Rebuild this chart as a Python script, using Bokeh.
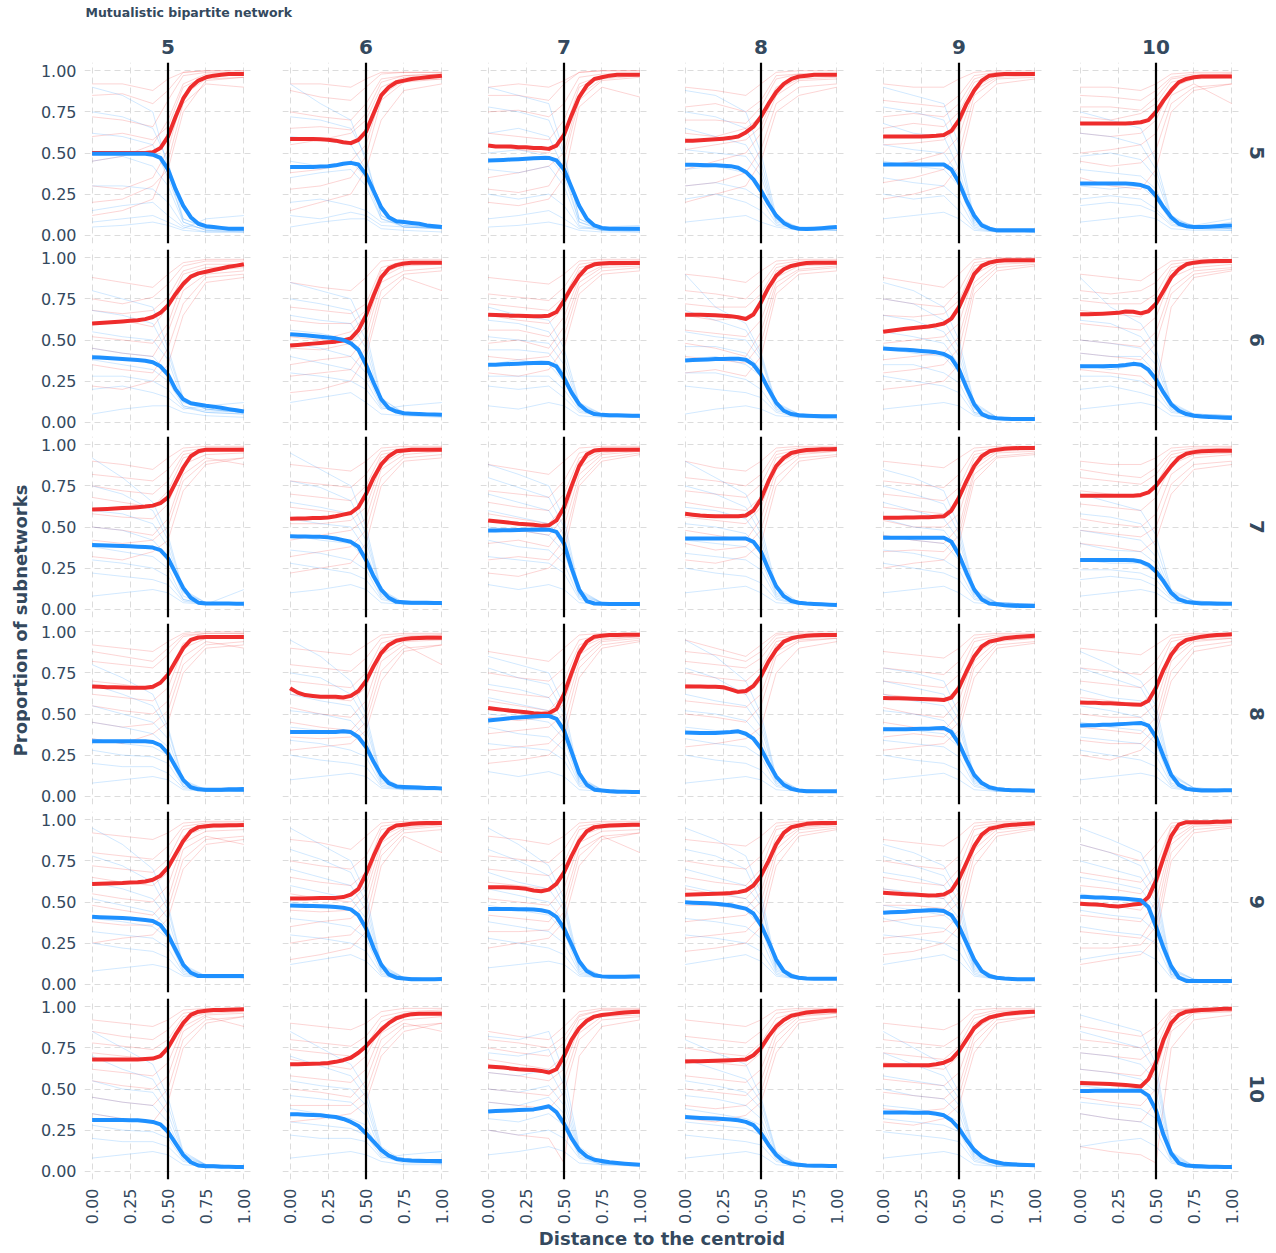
import math
from bokeh.plotting import figure
from bokeh.layouts import row, column
from bokeh.models import Range1d, FixedTicker, Span, NumeralTickFormatter
from bokeh.embed import file_html
from bokeh.resources import INLINE
from bokeh.core.properties import value

# ---------------- data ----------------
chart_title = "Mutualistic bipartite network"
col_levels = ["5", "6", "7", "8", "9", "10"]
row_levels = ["5", "6", "7", "8", "9", "10"]
x_label = "Distance to the centroid"
y_label = "Proportion of subnetworks"
tick_values = [0.0, 0.25, 0.5, 0.75, 1.0]
centroid_cut = 0.5

x_main = [0.0, 0.05, 0.1, 0.15, 0.2, 0.25, 0.3, 0.35, 0.4, 0.45, 0.5,
          0.55, 0.6, 0.65, 0.7, 0.75, 0.8, 0.85, 0.9, 0.95, 1.0]
x_thin = [0.0, 0.2, 0.4, 0.5, 0.6, 0.75, 1.0]

# smoothed proportions (red series / blue series), one list per column level
red_row5 = [
    [.50,.50,.50,.50,.50,.50,.50,.50,.505,.53,.60,.72,.83,.90,.94,.96,.97,.975,.98,.98,.98],
    [.585,.585,.585,.585,.583,.58,.575,.565,.56,.58,.63,.74,.85,.90,.93,.94,.95,.955,.96,.965,.97],
    [.545,.54,.54,.54,.535,.535,.53,.53,.525,.545,.61,.73,.84,.91,.95,.96,.97,.975,.975,.975,.975],
    [.575,.575,.577,.58,.583,.587,.592,.60,.625,.66,.72,.80,.87,.92,.95,.965,.97,.975,.975,.975,.975],
    [.60,.60,.60,.60,.60,.60,.602,.605,.61,.635,.70,.80,.88,.94,.97,.975,.98,.98,.98,.98,.98],
    [.68,.68,.68,.68,.68,.68,.68,.682,.687,.70,.75,.82,.88,.93,.95,.96,.965,.965,.965,.965,.965],
]
blue_row5 = [
    [.495,.495,.495,.495,.495,.495,.495,.495,.49,.47,.40,.28,.18,.11,.07,.055,.05,.045,.04,.04,.04],
    [.415,.415,.415,.415,.418,.42,.425,.435,.44,.43,.37,.27,.17,.11,.085,.08,.075,.07,.06,.055,.05],
    [.455,.456,.458,.46,.462,.465,.468,.47,.47,.455,.40,.29,.18,.10,.06,.045,.04,.04,.04,.04,.04],
    [.428,.428,.427,.426,.425,.423,.42,.41,.385,.34,.27,.19,.12,.075,.05,.04,.038,.04,.043,.047,.05],
    [.43,.43,.43,.43,.43,.43,.43,.43,.43,.40,.32,.21,.12,.06,.04,.03,.03,.03,.03,.03,.03],
    [.315,.315,.315,.315,.315,.315,.314,.312,.305,.29,.24,.17,.11,.07,.055,.05,.05,.052,.055,.058,.06],
]
red_row6 = [
    [.60,.603,.606,.61,.613,.617,.62,.627,.64,.665,.71,.78,.84,.885,.905,.915,.925,.935,.945,.952,.96],
    [.466,.47,.474,.478,.482,.486,.49,.497,.51,.56,.65,.77,.88,.935,.955,.965,.97,.97,.97,.97,.97],
    [.654,.652,.65,.648,.647,.646,.645,.645,.648,.67,.74,.82,.89,.94,.96,.965,.968,.968,.968,.968,.968],
    [.654,.654,.653,.652,.65,.648,.645,.638,.628,.655,.73,.82,.89,.93,.95,.96,.968,.97,.97,.97,.97],
    [.55,.556,.562,.568,.573,.577,.582,.59,.60,.63,.70,.80,.90,.95,.97,.98,.985,.985,.985,.985,.985],
    [.657,.657,.658,.66,.662,.665,.673,.672,.662,.675,.72,.80,.88,.93,.96,.97,.975,.978,.98,.98,.98],
]
blue_row6 = [
    [.395,.393,.39,.388,.385,.382,.378,.374,.365,.34,.29,.20,.14,.115,.108,.10,.095,.088,.08,.073,.066],
    [.535,.532,.529,.525,.52,.515,.51,.50,.48,.44,.35,.24,.14,.085,.065,.055,.052,.05,.048,.047,.046],
    [.35,.35,.352,.354,.356,.358,.36,.362,.36,.34,.27,.18,.11,.07,.05,.045,.043,.042,.041,.04,.04],
    [.376,.378,.38,.382,.384,.385,.386,.386,.38,.35,.29,.20,.12,.07,.05,.043,.04,.038,.037,.036,.036],
    [.448,.445,.442,.44,.437,.433,.43,.425,.415,.39,.32,.21,.11,.05,.03,.025,.022,.02,.02,.02,.02],
    [.34,.34,.34,.341,.342,.344,.348,.355,.35,.32,.26,.18,.11,.07,.05,.04,.035,.032,.03,.028,.026],
]
red_row7 = [
    [.607,.608,.61,.612,.615,.617,.62,.624,.63,.645,.68,.77,.86,.93,.96,.97,.97,.97,.97,.97,.97],
    [.55,.551,.552,.554,.555,.558,.565,.575,.585,.62,.70,.80,.88,.93,.96,.965,.97,.97,.97,.97,.97],
    [.54,.535,.53,.525,.52,.517,.513,.508,.51,.54,.62,.75,.87,.94,.965,.97,.97,.97,.97,.97,.97],
    [.58,.575,.57,.567,.565,.565,.565,.566,.57,.60,.67,.78,.87,.92,.95,.96,.968,.97,.972,.973,.974],
    [.556,.556,.556,.557,.558,.559,.56,.562,.565,.60,.68,.78,.87,.93,.96,.97,.975,.978,.98,.98,.98],
    [.69,.69,.69,.69,.69,.69,.69,.69,.695,.71,.75,.81,.87,.92,.945,.955,.96,.962,.963,.964,.964],
]
blue_row7 = [
    [.39,.389,.388,.386,.385,.383,.38,.378,.375,.36,.31,.22,.13,.07,.04,.035,.035,.035,.035,.034,.034],
    [.444,.443,.442,.441,.44,.437,.43,.42,.41,.38,.30,.20,.12,.07,.045,.042,.04,.04,.039,.038,.038],
    [.478,.479,.48,.481,.482,.483,.484,.485,.484,.47,.40,.25,.12,.05,.035,.033,.032,.032,.032,.032,.032],
    [.43,.43,.43,.43,.43,.43,.43,.43,.43,.41,.35,.24,.14,.08,.05,.04,.035,.032,.03,.028,.026],
    [.435,.435,.435,.435,.435,.435,.435,.435,.435,.41,.33,.22,.12,.06,.035,.03,.025,.022,.02,.02,.02],
    [.30,.30,.30,.30,.30,.30,.30,.298,.29,.27,.23,.17,.10,.06,.045,.04,.035,.035,.034,.034,.034],
]
red_row8 = [
    [.667,.665,.663,.662,.661,.66,.66,.66,.665,.69,.74,.82,.90,.95,.965,.968,.968,.968,.968,.968,.968],
    [.657,.63,.615,.61,.605,.605,.605,.60,.61,.64,.70,.79,.87,.92,.945,.955,.96,.962,.963,.963,.963],
    [.536,.53,.525,.52,.515,.51,.505,.502,.505,.53,.62,.75,.87,.94,.97,.975,.98,.98,.982,.982,.982],
    [.667,.667,.667,.666,.665,.663,.65,.635,.64,.67,.73,.82,.89,.94,.96,.97,.975,.978,.98,.98,.98],
    [.597,.596,.595,.594,.592,.591,.59,.588,.585,.60,.66,.76,.85,.91,.94,.95,.96,.965,.97,.973,.976],
    [.57,.569,.568,.566,.565,.563,.56,.558,.556,.58,.66,.77,.86,.92,.95,.96,.97,.975,.98,.982,.984],
]
blue_row8 = [
    [.335,.335,.335,.335,.335,.335,.335,.335,.33,.31,.26,.18,.10,.055,.042,.04,.04,.04,.042,.043,.044],
    [.39,.39,.39,.39,.39,.39,.39,.395,.39,.36,.30,.21,.13,.08,.06,.057,.055,.053,.051,.05,.048],
    [.46,.465,.47,.475,.478,.482,.485,.488,.488,.47,.40,.27,.14,.07,.04,.035,.03,.028,.027,.026,.026],
    [.387,.386,.385,.385,.385,.387,.39,.395,.38,.35,.29,.20,.12,.07,.045,.035,.03,.03,.03,.03,.03],
    [.407,.407,.408,.408,.409,.41,.41,.413,.415,.39,.32,.22,.13,.08,.055,.045,.04,.037,.036,.035,.034],
    [.43,.431,.432,.434,.435,.437,.44,.443,.446,.43,.36,.24,.13,.07,.045,.04,.035,.035,.035,.036,.036],
]
red_row9 = [
    [.61,.611,.612,.614,.615,.618,.62,.625,.635,.66,.71,.79,.87,.93,.955,.96,.965,.965,.967,.967,.968],
    [.522,.522,.522,.523,.524,.524,.525,.53,.545,.58,.67,.78,.88,.94,.965,.97,.975,.978,.98,.98,.98],
    [.589,.59,.59,.588,.585,.58,.57,.565,.575,.61,.68,.78,.87,.93,.955,.96,.965,.967,.968,.969,.97],
    [.544,.545,.547,.548,.55,.552,.555,.56,.57,.60,.66,.75,.85,.92,.955,.965,.975,.978,.98,.98,.98],
    [.556,.553,.55,.547,.545,.542,.54,.541,.545,.57,.64,.74,.84,.91,.945,.955,.965,.97,.972,.975,.978],
    [.49,.487,.485,.482,.475,.472,.478,.485,.49,.53,.63,.77,.90,.97,.985,.985,.985,.985,.987,.988,.99],
]
blue_row9 = [
    [.41,.408,.406,.405,.403,.40,.395,.39,.385,.36,.30,.21,.12,.07,.05,.05,.05,.05,.05,.05,.05],
    [.478,.477,.476,.475,.474,.472,.47,.465,.455,.42,.34,.22,.12,.06,.04,.035,.03,.03,.03,.031,.032],
    [.458,.458,.457,.457,.456,.456,.455,.45,.44,.41,.34,.24,.14,.08,.055,.048,.045,.045,.046,.047,.048],
    [.498,.496,.494,.492,.49,.485,.48,.47,.46,.43,.36,.26,.15,.08,.05,.04,.035,.034,.034,.034,.034],
    [.435,.437,.439,.441,.445,.447,.45,.45,.445,.42,.35,.25,.15,.08,.05,.04,.035,.032,.03,.03,.03],
    [.532,.53,.528,.527,.525,.523,.52,.515,.51,.47,.35,.22,.11,.04,.02,.02,.02,.02,.02,.02,.02],
]
red_row10 = [
    [.68,.68,.68,.68,.68,.68,.68,.682,.685,.70,.75,.83,.90,.95,.97,.975,.98,.98,.982,.983,.984],
    [.65,.651,.652,.654,.655,.658,.665,.675,.69,.72,.76,.81,.86,.90,.93,.945,.955,.957,.958,.958,.958],
    [.637,.634,.63,.625,.62,.617,.615,.61,.60,.62,.70,.80,.87,.915,.94,.95,.955,.96,.965,.968,.97],
    [.667,.668,.669,.67,.671,.673,.675,.677,.68,.705,.75,.82,.88,.92,.945,.955,.965,.97,.973,.975,.976],
    [.645,.645,.645,.645,.645,.645,.645,.65,.66,.68,.73,.80,.87,.91,.935,.945,.955,.96,.965,.968,.97],
    [.536,.535,.533,.532,.53,.528,.525,.52,.515,.56,.66,.80,.90,.95,.97,.975,.98,.982,.985,.987,.988],
]
blue_row10 = [
    [.312,.312,.312,.311,.311,.31,.31,.306,.30,.285,.24,.17,.10,.055,.035,.03,.03,.028,.027,.026,.026],
    [.347,.346,.344,.342,.34,.335,.33,.318,.30,.275,.23,.18,.13,.095,.075,.068,.065,.064,.063,.063,.063],
    [.363,.366,.368,.37,.372,.374,.376,.385,.395,.36,.29,.20,.13,.09,.07,.062,.055,.05,.046,.043,.04],
    [.33,.327,.324,.322,.32,.318,.315,.31,.30,.28,.23,.16,.10,.06,.045,.04,.035,.034,.033,.032,.032],
    [.357,.357,.357,.357,.356,.356,.355,.35,.34,.31,.26,.19,.13,.09,.065,.055,.045,.042,.04,.038,.036],
    [.488,.488,.489,.489,.49,.49,.49,.49,.49,.46,.37,.22,.11,.05,.035,.032,.03,.028,.027,.026,.026],
]

# individual subnetwork traces (percent), sampled at x_thin; 8 red + 8 blue per panel
thin_red_row5 = [
    [[85,86,80,88,99,100,100],[72,70,66,82,97,99,99],[45,48,55,70,92,98,98],[30,28,35,52,85,95,96],[12,15,22,45,80,92,90],[60,62,58,66,90,97,98],[20,22,30,40,75,94,96],[92,92,88,95,99,100,100]],
    [[88,84,82,90,98,99,99],[75,72,70,80,95,97,98],[55,58,62,70,90,96,97],[38,40,45,55,85,94,95],[15,20,25,40,70,88,92],[65,66,64,74,93,97,98],[28,30,35,48,82,93,95],[92,92,90,95,99,99,99]],
    [[85,85,82,92,99,100,100],[75,76,72,80,96,98,98],[62,60,58,70,92,97,98],[35,38,42,50,85,95,97],[20,18,22,35,78,90,84],[55,52,50,62,90,97,98],[28,26,30,45,82,94,96],[90,92,90,94,99,100,100]],
    [[90,88,85,92,99,100,100],[78,80,75,82,97,98,98],[62,60,65,72,90,96,97],[40,45,50,62,85,94,95],[20,25,30,45,75,85,90],[70,70,68,78,95,98,98],[52,55,58,66,88,95,96],[30,32,38,52,80,90,92]],
    [[92,90,90,95,99,100,100],[82,80,78,85,97,99,99],[65,68,66,75,93,98,98],[42,45,50,60,88,96,97],[22,25,30,42,80,92,95],[72,74,72,80,95,99,99],[55,56,58,66,90,97,98],[32,35,40,50,85,95,96]],
    [[90,90,88,92,98,99,99],[85,84,82,88,96,98,98],[72,70,74,80,93,96,97],[50,52,55,62,85,92,80],[35,30,28,40,75,88,92],[78,78,76,84,95,97,98],[62,60,62,70,90,95,96],[45,42,44,52,80,90,92]],
]
thin_blue_row5 = [
    [[90,85,75,40,8,3,2],[62,60,55,35,10,5,4],[30,30,28,20,6,4,4],[15,18,20,12,5,2,2],[8,10,12,8,4,10,12],[75,72,65,45,10,4,3],[45,48,42,30,8,3,3],[5,6,8,6,3,2,2]],
    [[92,80,70,45,15,6,4],[60,58,55,40,12,5,4],[35,38,40,30,10,6,5],[20,22,18,15,8,8,6],[5,8,10,10,4,3,2],[72,70,65,48,12,5,4],[45,42,45,35,10,5,4],[12,10,14,12,6,5,5]],
    [[90,85,80,50,10,3,2],[62,65,60,40,8,4,3],[40,38,42,30,6,3,3],[25,22,25,18,5,3,3],[10,12,15,10,4,5,6],[78,75,70,48,10,4,3],[50,52,48,36,8,3,3],[5,6,8,6,3,2,2]],
    [[88,85,75,50,12,4,3],[65,60,55,40,10,5,4],[40,42,38,30,8,5,5],[22,25,20,15,6,4,4],[8,10,12,8,5,3,3],[75,72,65,45,10,4,3],[52,50,48,36,9,4,4],[30,32,28,22,7,4,4]],
    [[90,85,80,55,10,3,2],[68,62,60,40,8,3,2],[45,42,40,30,6,3,3],[25,22,24,15,4,2,2],[10,12,14,10,3,2,2],[78,75,70,48,9,3,2],[55,52,50,36,7,3,2],[35,32,30,22,5,2,2]],
    [[75,70,65,45,12,5,4],[48,50,46,35,10,6,5],[30,28,30,22,8,6,10],[18,20,18,14,6,4,3],[8,10,12,10,4,3,3],[62,60,55,40,11,5,4],[40,38,36,28,9,5,4],[22,24,22,16,7,4,8]],
]
thin_red_row6 = [
    [[88,85,82,90,97,99,99],[75,72,76,84,95,98,98],[60,62,58,70,90,94,95],[45,42,40,55,80,90,92],[22,20,25,35,65,85,88],[68,66,68,76,92,96,96],[52,50,48,60,86,92,94],[35,32,30,45,72,88,90]],
    [[85,82,80,88,98,99,99],[70,68,66,72,94,98,98],[52,50,55,65,90,96,97],[35,38,40,52,85,92,94],[18,20,25,40,75,88,80],[62,60,60,68,92,97,97],[45,44,48,58,88,95,96],[28,30,32,45,80,90,92]],
    [[88,86,84,90,98,99,99],[78,76,74,82,96,98,98],[65,62,60,70,92,96,97],[48,50,45,58,85,94,95],[30,28,32,45,78,90,92],[72,70,68,76,94,97,98],[56,56,52,64,88,95,96],[40,38,40,52,82,92,94]],
    [[90,88,85,92,98,99,99],[80,78,75,84,96,98,98],[65,62,64,70,92,96,97],[48,45,40,55,85,93,95],[30,32,28,40,78,90,92],[72,70,70,78,94,97,98],[56,54,52,62,88,95,96],[40,38,36,48,82,92,94]],
    [[88,85,82,90,99,100,100],[75,72,70,80,97,99,99],[55,58,60,68,93,98,98],[38,40,42,52,85,96,97],[20,22,25,35,78,92,95],[65,64,66,74,95,99,99],[48,50,52,60,90,97,98],[30,32,35,45,82,94,96]],
    [[90,88,86,92,98,99,99],[80,78,80,85,96,98,98],[68,66,64,72,92,96,97],[50,48,46,55,82,92,94],[32,30,28,20,70,88,92],[74,72,72,78,94,97,98],[60,58,56,64,88,94,96],[42,40,38,48,78,90,93]],
]
thin_blue_row6 = [
    [[80,75,70,45,15,8,6],[55,52,50,38,12,8,6],[38,35,32,25,10,6,5],[20,22,18,15,8,10,12],[5,8,10,10,6,4,3],[68,65,60,42,14,8,6],[45,42,40,30,10,7,6],[28,28,25,20,9,6,5]],
    [[85,80,75,55,15,5,4],[65,62,60,45,12,6,5],[48,45,40,30,10,6,5],[30,28,25,20,8,10,12],[12,15,18,12,5,4,3],[75,72,68,50,14,6,5],[56,54,50,38,11,6,5],[40,36,32,25,9,6,5]],
    [[70,65,62,45,12,5,4],[52,50,48,35,10,5,4],[35,38,35,25,8,4,3],[22,20,22,15,6,4,4],[10,8,12,10,4,3,3],[62,60,55,40,11,5,4],[44,44,42,30,9,4,4],[28,28,28,20,7,4,3]],
    [[90,70,60,42,12,5,4],[55,52,50,38,10,5,4],[38,40,35,28,8,4,3],[22,20,18,15,6,3,3],[5,8,10,8,4,3,2],[68,62,56,40,11,5,4],[46,46,42,32,9,4,4],[30,30,26,20,7,4,3]],
    [[85,80,70,50,12,3,2],[65,62,55,40,10,3,2],[45,42,40,30,6,3,2],[28,25,22,18,5,2,2],[8,10,12,10,4,2,2],[75,72,62,45,11,3,2],[55,52,48,35,8,3,2],[35,35,30,24,6,2,2]],
    [[88,70,60,45,12,5,4],[50,48,45,35,10,5,4],[35,32,35,25,8,4,3],[20,22,18,15,6,4,3],[8,10,12,10,4,3,2],[62,60,52,40,11,5,4],[42,40,40,30,9,4,4],[28,28,25,20,7,4,3]],
]
thin_red_row7 = [
    [[90,88,85,92,98,99,99],[82,80,78,85,96,98,98],[68,65,62,72,92,96,97],[50,48,45,55,82,92,88],[32,30,35,42,72,88,92],[75,72,70,78,94,97,98],[58,56,55,64,88,94,95],[42,40,42,50,78,90,92]],
    [[88,86,84,90,98,99,99],[78,76,74,82,96,98,98],[62,60,58,68,92,97,98],[42,45,48,55,85,94,96],[22,25,28,40,75,90,92],[70,68,66,75,94,97,98],[52,52,54,62,88,96,97],[32,35,38,48,80,92,94]],
    [[88,85,82,90,98,99,99],[72,70,68,78,95,98,98],[58,55,52,62,90,96,97],[40,42,38,50,82,94,96],[22,20,25,35,75,90,94],[65,62,60,70,92,97,98],[48,48,45,56,86,95,97],[30,32,30,42,78,92,95]],
    [[90,86,84,90,98,99,99],[80,78,75,82,96,98,98],[65,62,60,68,92,96,97],[48,45,42,55,85,94,96],[30,28,32,40,75,90,93],[72,70,68,76,94,97,98],[56,54,52,62,88,95,96],[40,36,38,48,80,92,94]],
    [[90,88,86,92,98,99,99],[78,76,74,82,96,98,98],[62,60,58,66,92,97,98],[45,42,40,50,85,95,96],[25,28,30,40,78,92,94],[70,68,66,74,94,97,98],[54,50,50,58,88,96,97],[35,36,35,45,82,93,95]],
    [[90,88,88,92,98,99,99],[85,82,80,86,96,98,98],[72,70,68,76,92,96,97],[55,52,50,58,82,92,94],[40,38,35,42,70,85,88],[80,78,76,82,94,97,98],[64,62,60,68,88,94,95],[48,46,44,50,76,88,90]],
]
thin_blue_row7 = [
    [[92,80,65,45,12,4,3],[60,58,52,38,10,4,3],[38,35,32,25,6,3,3],[22,20,18,15,5,3,3],[8,10,12,10,4,3,12],[75,70,60,42,11,4,3],[50,48,42,32,8,3,3],[30,28,25,20,6,3,3]],
    [[95,85,75,50,12,4,3],[65,62,58,42,10,4,3],[45,42,40,30,8,4,3],[28,25,22,18,6,3,3],[10,12,15,12,4,3,3],[78,74,66,46,11,4,3],[55,52,50,36,9,4,3],[36,34,30,24,7,3,3]],
    [[88,82,75,55,12,4,3],[70,65,60,45,10,4,3],[50,48,45,35,8,4,3],[32,30,28,22,6,3,3],[15,12,15,12,4,3,3],[80,74,68,50,11,4,3],[60,56,52,40,9,4,3],[42,38,36,28,7,3,3]],
    [[90,80,70,50,14,4,3],[62,60,55,42,10,4,3],[42,40,38,30,8,4,3],[25,22,20,16,6,3,3],[10,12,14,10,4,3,3],[75,70,62,46,12,4,3],[52,50,46,36,9,4,3],[34,32,30,24,7,3,3]],
    [[85,80,72,50,12,4,3],[65,60,55,42,10,4,3],[45,42,40,30,8,4,3],[28,25,22,18,6,3,3],[10,12,14,10,4,3,3],[75,70,64,46,11,4,3],[55,50,48,36,9,4,3],[36,34,30,24,7,3,3]],
    [[70,65,60,45,12,5,4],[48,45,42,32,10,5,4],[30,28,28,22,8,4,3],[18,20,18,14,6,3,3],[8,10,12,10,4,3,3],[58,56,52,38,11,5,4],[40,36,35,28,9,4,3],[24,24,22,18,7,3,3]],
]
thin_red_row8 = [
    [[92,90,88,94,99,100,100],[82,80,78,86,97,99,99],[70,68,65,74,93,97,98],[55,52,50,58,85,94,90],[35,32,38,45,75,90,92],[88,85,82,90,98,99,99],[62,60,58,66,90,96,97],[45,42,44,52,80,92,94]],
    [[90,88,86,92,98,99,99],[80,78,76,84,96,98,98],[62,60,58,66,90,96,97],[45,42,40,50,82,92,80],[28,30,32,40,70,88,92],[70,68,66,75,93,97,98],[54,50,48,58,86,94,95],[36,35,36,45,76,90,92]],
    [[88,85,82,90,98,99,99],[75,72,70,78,95,98,98],[58,55,52,62,90,96,97],[38,40,42,50,82,94,96],[20,22,25,35,72,90,94],[65,62,60,70,92,97,98],[48,46,48,56,86,95,97],[28,30,32,42,78,92,95]],
    [[95,90,85,92,99,100,100],[82,80,78,84,96,98,98],[68,66,62,70,92,96,97],[50,48,45,55,85,94,96],[30,32,35,42,75,90,94],[88,86,82,88,98,99,99],[75,72,70,78,94,97,98],[58,56,54,62,88,95,96]],
    [[88,86,84,90,98,99,99],[78,76,74,82,96,98,98],[62,60,58,66,90,96,97],[45,42,40,50,82,94,96],[28,30,32,40,72,90,93],[70,68,66,74,94,97,98],[54,50,48,58,86,95,96],[36,38,36,45,78,92,94]],
    [[90,88,86,92,98,99,99],[78,76,74,82,96,98,98],[60,58,56,65,90,96,97],[42,40,38,48,82,94,96],[25,22,28,38,70,88,92],[70,68,66,74,94,97,98],[50,48,48,56,86,95,96],[34,32,32,42,76,91,94]],
]
thin_blue_row8 = [
    [[80,72,62,42,10,4,3],[55,50,45,35,8,4,3],[35,32,30,25,6,3,3],[20,18,18,14,5,3,3],[8,10,12,10,4,3,3],[68,62,55,40,9,4,3],[45,42,38,30,7,3,3],[28,25,24,20,6,3,3]],
    [[95,85,70,50,12,5,4],[62,58,55,42,10,5,4],[42,40,38,30,8,5,4],[25,22,20,18,6,4,4],[10,12,14,12,5,4,4],[75,72,62,46,11,5,4],[52,50,46,36,9,5,4],[34,32,28,24,7,4,4]],
    [[85,80,75,55,12,4,3],[68,65,60,45,10,4,3],[50,48,45,35,8,4,3],[32,30,28,22,6,3,3],[15,12,15,12,4,3,3],[78,72,68,50,11,4,3],[60,56,52,40,9,4,3],[42,38,36,28,7,3,3]],
    [[95,85,70,50,12,4,3],[62,58,55,42,10,4,3],[42,40,38,30,8,4,3],[25,22,20,16,6,3,3],[8,10,12,10,4,3,3],[78,72,62,46,11,4,3],[52,50,46,36,9,4,3],[35,32,30,24,7,3,3]],
    [[78,75,70,50,12,4,3],[62,58,55,42,10,4,3],[42,40,38,30,8,4,3],[25,22,20,16,6,3,3],[10,12,14,10,4,3,3],[70,66,62,46,11,4,3],[52,50,46,36,9,4,3],[34,32,30,24,7,3,3]],
    [[88,80,70,55,14,5,4],[65,60,58,45,12,5,4],[45,42,40,32,8,4,3],[28,25,22,18,6,3,3],[10,12,14,12,5,3,3],[78,72,66,50,13,5,4],[55,52,48,38,10,4,3],[36,34,32,25,7,3,3]],
]
thin_red_row9 = [
    [[92,90,88,92,98,99,99],[80,78,76,84,96,98,98],[65,62,60,68,90,95,96],[48,45,42,52,82,90,85],[25,28,30,40,70,85,88],[72,70,68,76,94,97,97],[55,52,50,60,86,93,94],[38,36,36,46,76,88,90]],
    [[88,86,82,90,98,99,99],[75,72,70,78,96,98,98],[55,52,50,60,90,96,97],[35,38,40,48,82,94,96],[15,18,22,32,72,90,80],[65,62,60,68,94,97,98],[45,44,45,55,86,95,97],[25,28,30,40,78,92,94]],
    [[90,88,85,90,98,99,99],[78,76,74,82,96,98,98],[62,60,58,66,90,95,96],[42,40,38,50,82,90,80],[22,25,28,38,72,88,92],[70,68,66,74,94,97,97],[52,50,48,58,86,93,94],[32,32,33,44,78,90,92]],
    [[88,86,84,90,98,99,99],[75,72,70,78,96,98,98],[58,55,52,62,90,96,97],[38,40,42,50,82,94,96],[20,22,25,35,72,90,94],[65,62,60,70,94,97,98],[48,48,46,56,86,95,97],[28,30,32,42,78,92,95]],
    [[88,86,84,90,98,99,99],[75,72,70,78,96,98,98],[58,55,52,62,90,96,97],[38,40,42,50,82,94,96],[18,20,25,35,72,90,94],[65,62,60,70,94,97,98],[48,48,46,56,86,95,97],[28,30,32,42,78,92,95]],
    [[85,80,75,85,98,99,99],[68,65,62,72,96,99,99],[50,48,45,58,92,98,98],[32,30,28,42,85,96,97],[12,15,18,28,75,92,95],[60,58,55,66,95,99,99],[42,40,38,50,88,97,98],[22,22,24,35,80,94,96]],
]
thin_blue_row9 = [
    [[95,85,70,48,12,5,4],[62,58,52,40,10,5,4],[40,38,35,28,8,5,4],[25,22,20,16,6,4,4],[8,10,12,10,5,4,4],[78,72,62,45,11,5,4],[52,48,44,34,9,5,4],[32,30,28,22,7,4,4]],
    [[95,85,75,55,12,4,3],[70,65,60,45,10,4,3],[50,48,45,35,8,4,3],[30,28,25,20,6,3,3],[12,15,18,14,5,3,3],[82,76,68,50,11,4,3],[60,56,52,40,9,4,3],[40,38,35,28,7,3,3]],
    [[95,85,72,52,12,5,4],[68,62,58,45,10,5,4],[48,45,42,32,8,4,4],[28,25,22,18,6,4,4],[10,12,14,12,5,4,4],[82,75,66,48,11,5,4],[58,54,50,38,9,5,4],[38,35,32,25,7,4,4]],
    [[95,88,78,55,12,4,3],[70,65,60,48,10,4,3],[50,48,45,35,8,4,3],[30,28,25,20,6,3,3],[12,15,18,14,5,3,3],[82,78,70,50,11,4,3],[60,56,52,42,9,4,3],[40,38,35,28,7,3,3]],
    [[85,80,72,55,12,4,3],[68,65,60,45,10,4,3],[48,45,42,35,8,4,3],[30,28,25,20,6,3,3],[12,15,18,14,5,3,3],[78,72,66,50,11,4,3],[58,56,52,40,9,4,3],[40,36,34,28,7,3,3]],
    [[95,88,80,60,10,3,2],[75,70,65,50,8,3,2],[55,52,50,40,6,2,2],[35,32,30,25,5,2,2],[15,18,20,15,4,2,2],[85,80,72,55,9,3,2],[65,62,58,45,7,2,2],[45,42,40,32,6,2,2]],
]
thin_red_row10 = [
    [[92,90,88,92,98,99,99],[85,82,80,86,96,98,98],[72,70,68,75,92,96,97],[55,52,50,58,85,94,88],[35,32,30,42,75,90,94],[78,76,74,80,94,97,98],[62,60,58,66,88,95,96],[45,42,40,50,80,92,94]],
    [[90,88,86,90,97,99,99],[80,78,76,82,94,97,98],[68,65,62,70,88,94,96],[50,48,45,55,80,90,85],[30,32,35,42,70,85,90],[74,72,70,76,91,96,97],[58,56,54,62,84,92,94],[40,40,40,48,75,88,90]],
    [[85,82,80,88,97,99,99],[75,72,70,78,94,98,98],[60,58,55,62,88,95,96],[42,40,38,48,80,92,94],[25,22,20,5,70,88,92],[80,78,75,82,95,98,98],[68,65,62,70,92,96,97],[50,48,46,55,84,94,95]],
    [[92,90,88,92,98,99,99],[82,80,78,85,96,98,98],[68,66,64,72,90,96,97],[50,48,46,55,82,94,96],[32,30,34,42,72,90,94],[75,72,70,78,93,97,98],[58,56,54,62,86,95,96],[40,38,40,48,78,92,94]],
    [[90,88,86,90,98,99,99],[80,78,76,82,95,98,98],[66,64,62,70,90,96,97],[48,46,44,52,82,94,96],[30,28,32,40,72,90,94],[72,70,68,76,93,97,98],[56,54,52,60,86,95,96],[38,36,38,46,78,92,94]],
    [[88,85,82,88,98,99,99],[72,70,68,75,96,99,99],[55,52,50,60,92,98,98],[35,32,30,42,85,96,97],[15,12,10,5,75,92,95],[80,78,75,82,97,99,99],[62,60,58,68,94,98,98],[45,42,40,50,88,97,97]],
]
thin_blue_row10 = [
    [[85,75,65,45,12,4,3],[55,50,48,35,10,4,3],[35,32,30,25,8,4,3],[20,18,18,15,6,3,3],[8,10,12,10,4,3,3],[70,62,56,40,11,4,3],[45,42,40,30,9,4,3],[28,25,24,20,7,3,3]],
    [[85,75,65,50,15,6,5],[55,52,50,40,12,6,5],[38,35,32,28,10,6,5],[22,20,20,18,8,10,12],[8,10,12,10,6,4,4],[70,64,58,45,13,6,5],[46,44,42,34,11,6,5],[30,28,26,22,9,5,5]],
    [[82,80,85,60,15,5,4],[60,58,62,45,12,5,4],[42,40,45,35,10,5,4],[25,22,25,20,8,4,4],[10,12,15,12,5,4,3],[72,70,74,52,13,5,4],[50,48,52,40,11,5,4],[32,30,35,28,9,4,4]],
    [[80,72,65,45,12,4,3],[55,52,48,38,10,4,3],[38,35,32,28,8,4,3],[22,20,18,16,6,3,3],[8,10,12,10,4,3,3],[68,62,56,42,11,4,3],[46,44,40,32,9,4,3],[30,28,26,22,7,3,3]],
    [[85,75,65,48,12,4,3],[58,55,52,40,10,4,3],[40,38,35,30,8,4,3],[24,22,20,18,6,3,3],[8,10,12,10,4,3,3],[72,65,58,44,11,4,3],[50,46,44,35,9,4,3],[32,30,28,24,7,3,3]],
    [[95,90,85,65,12,3,2],[72,70,65,55,10,3,2],[52,50,48,40,8,2,2],[35,32,30,25,6,2,2],[15,18,20,15,5,2,2],[85,80,75,60,11,3,2],[62,60,56,48,9,3,2],[42,40,38,32,7,2,2]],
]

red_main = [red_row5, red_row6, red_row7, red_row8, red_row9, red_row10]
blue_main = [blue_row5, blue_row6, blue_row7, blue_row8, blue_row9, blue_row10]
thin_red = [thin_red_row5, thin_red_row6, thin_red_row7, thin_red_row8, thin_red_row9, thin_red_row10]
thin_blue = [thin_blue_row5, thin_blue_row6, thin_blue_row7, thin_blue_row8, thin_blue_row9, thin_blue_row10]

# ---------------- style / layout (screen px; page has no margin) ----------------
FONT = "DejaVu Sans"
TEXT = "#34495E"
RED = "#EE2C2C"
BLUE = "#1E90FF"
GRIDC = "#DCDCDC"

lefts = [84, 282, 480, 677, 875, 1072]   # frame left
tops = [62, 249, 436, 623, 811, 998]     # frame top
FW, FH = 167, 181
W0 = 30                        # y-title strip width
RB = [12, 12, 12, 12, 12, 5]   # right border of each column's figures
BB = [3, 3, 3, 3, 3, 48]       # bottom border of each row's figures
TOPH = 59                      # title / header strip height
WR = 26                        # row-label strip width
XLABH = 25

col_w, col_bl = [], []
start = W0
for j in range(6):
    end = lefts[j] + FW + RB[j]
    col_w.append(end - start)
    col_bl.append(lefts[j] - start)
    start = end
RIGHT_EDGE = start
row_h, row_bt = [], []
start = TOPH
for i in range(6):
    end = tops[i] + FH + BB[i]
    row_h.append(end - start)
    row_bt.append(tops[i] - start)
    start = end
GRID_H = sum(row_h)
GRID_BOTTOM = TOPH + GRID_H
TOTAL_W = RIGHT_EDGE + WR


def panel(i, j):
    p = figure(width=col_w[j], height=row_h[i],
               x_range=Range1d(-0.05, 1.05), y_range=Range1d(-0.05, 1.05),
               output_backend="svg", toolbar_location=None,
               min_border_left=col_bl[j], min_border_right=RB[j],
               min_border_top=row_bt[i], min_border_bottom=BB[i])
    p.outline_line_color = None
    p.background_fill_color = "white"
    p.border_fill_color = "white"
    for g in (p.xgrid, p.ygrid):
        g.ticker = FixedTicker(ticks=tick_values)
        g.grid_line_color = GRIDC
        g.grid_line_dash = "6 4"
        g.grid_line_width = 1
    for ax in (p.xaxis, p.yaxis):
        ax.ticker = FixedTicker(ticks=tick_values)
        ax.formatter = NumeralTickFormatter(format="0.00")
        ax.axis_line_color = None
        ax.major_tick_line_color = None
        ax.minor_tick_line_color = None
        ax.major_tick_out = 0
        ax.major_tick_in = 0
        ax.major_label_text_font = FONT
        ax.major_label_text_font_size = "16px"
        ax.major_label_text_color = TEXT
    p.yaxis.major_label_standoff = 8
    p.xaxis.major_label_standoff = 9
    p.xaxis.major_label_orientation = math.pi / 2
    if j != 0:
        p.yaxis.visible = False
    if i != 5:
        p.xaxis.visible = False

    tr = thin_red[i][j]
    tb = thin_blue[i][j]
    p.multi_line(xs=[x_thin] * len(tr), ys=[[v / 100 for v in s] for s in tr],
                 line_color=RED, line_alpha=0.2, line_width=1)
    p.multi_line(xs=[x_thin] * len(tb), ys=[[v / 100 for v in s] for s in tb],
                 line_color=BLUE, line_alpha=0.2, line_width=1)
    p.line(x_main, red_main[i][j], line_color=RED, line_width=4, line_join="round")
    p.line(x_main, blue_main[i][j], line_color=BLUE, line_width=4, line_join="round")
    p.add_layout(Span(location=centroid_cut, dimension="height",
                      line_color="black", line_width=2.2))
    return p


def strip(w, h):
    f = figure(width=w, height=h, x_range=Range1d(0, w), y_range=Range1d(0, h),
               output_backend="svg", toolbar_location=None,
               x_axis_location=None, y_axis_location=None, min_border=0)
    f.outline_line_color = None
    f.background_fill_color = "white"
    f.border_fill_color = "white"
    f.xgrid.grid_line_color = None
    f.ygrid.grid_line_color = None
    return f


# top strip: chart title + column headers
top = strip(TOTAL_W, TOPH)
top.text(x=[lefts[0] + 1], y=[TOPH - 12], text=[chart_title],
         text_font=value(FONT), text_font_style="bold", text_font_size="12.5px",
         text_color=TEXT, text_align="left", text_baseline="middle")
top.text(x=[lefts[j] + FW / 2 for j in range(6)], y=[TOPH - 46.5] * 6, text=col_levels,
         text_font=value(FONT), text_font_style="bold", text_font_size="20px",
         text_color=TEXT, text_align="center", text_baseline="middle")

# left strip: y title
ylab = strip(W0, GRID_H)
ylab.text(x=[20], y=[GRID_BOTTOM - 620], text=[y_label],
          text_font=value(FONT), text_font_style="bold", text_font_size="18px",
          text_color=TEXT, text_align="center", text_baseline="middle", angle=math.pi / 2)

# right strip: row labels
rlab = strip(WR, GRID_H)
rlab.text(x=[12] * 6, y=[GRID_BOTTOM - (tops[i] + FH / 2) for i in range(6)], text=row_levels,
          text_font=value(FONT), text_font_style="bold", text_font_size="20px",
          text_color=TEXT, text_align="center", text_baseline="middle", angle=-math.pi / 2)

# bottom strip: x title
xlab = strip(TOTAL_W, XLABH)
xlab.text(x=[(lefts[0] + lefts[5] + FW) / 2], y=[GRID_BOTTOM + XLABH - 1238], text=[x_label],
          text_font=value(FONT), text_font_style="bold", text_font_size="18px",
          text_color=TEXT, text_align="center", text_baseline="middle")

grid = column(*[row(*[panel(i, j) for j in range(6)]) for i in range(6)])
layout = column(top, row(ylab, grid, rlab), xlab)

open("out.html", "w").write(file_html(layout, INLINE, title=chart_title))
